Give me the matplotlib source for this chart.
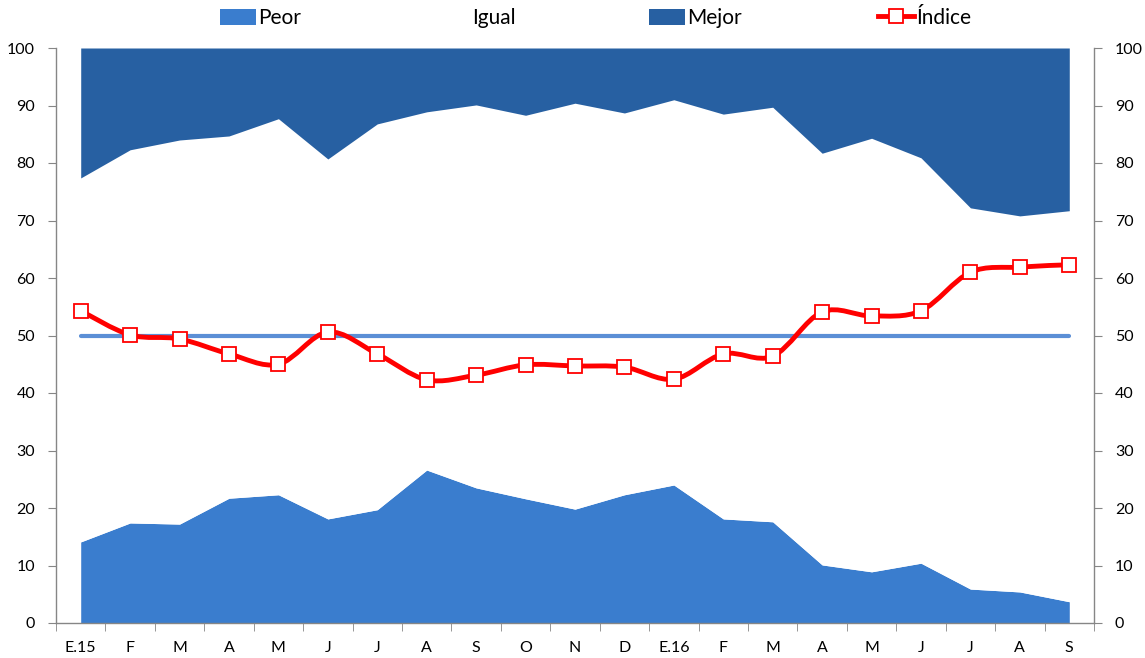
import matplotlib
matplotlib.use("Agg")
import matplotlib.pyplot as plt
from matplotlib.path import Path
from matplotlib.patches import PathPatch, Patch
from matplotlib.lines import Line2D
import numpy as np

plt.rcParams['font.family'] = ['Lato', 'DejaVu Sans']

categories = ["E.15", "F", "M", "A", "M", "J", "J", "A", "S", "O", "N", "D",
              "E.16", "F", "M", "A", "M", "J", "J", "A", "S"]
peor = [14.1, 17.4, 17.2, 21.7, 22.3, 18.1, 19.7, 26.6, 23.5, 21.6, 19.8, 22.3,
        24.0, 18.1, 17.6, 10.1, 8.9, 10.4, 5.9, 5.4, 3.7]
igual = [63.3, 64.9, 66.8, 63.0, 65.4, 62.6, 67.1, 62.3, 66.6, 66.7, 70.6, 66.4,
         67.0, 70.4, 72.1, 71.6, 75.4, 70.5, 66.3, 65.4, 68.0]
mejor = [100 - p - g for p, g in zip(peor, igual)]
indice = [54.3, 50.1, 49.4, 46.8, 45.0, 50.6, 46.8, 42.3, 43.1, 44.9, 44.7, 44.5,
          42.4, 46.8, 46.4, 54.1, 53.4, 54.3, 61.0, 61.9, 62.3]
referencia = [50] * len(categories)

c_peor = "#3A7DCE"
c_mejor = "#2760A2"
c_ref = "#5B8FD6"
c_idx = "#FF0000"
gray = "#868686"

W, H = 1145, 658
fig = plt.figure(figsize=(W / 100, H / 100), dpi=100)
ax = fig.add_axes([56 / W, 35 / H, (1094 - 56) / W, (623 - 48) / H])

x = np.arange(len(categories))
low = np.array(peor)
mid = low + np.array(igual)
top = mid + np.array(mejor)
ax.fill_between(x, 0, low, color=c_peor, lw=0, zorder=1)
ax.fill_between(x, low, mid, color="white", lw=0, zorder=1)
ax.fill_between(x, mid, top, color=c_mejor, lw=0, zorder=1)

ax.plot(x, referencia, color=c_ref, lw=3, solid_capstyle='round', zorder=2)

# smoothed line (Catmull-Rom style Bezier, like Excel smoothing)
pts = np.column_stack([x, indice]).astype(float)
n = len(pts)
verts = [pts[0]]
codes = [Path.MOVETO]
for i in range(n - 1):
    p0 = pts[i - 1] if i > 0 else pts[i]
    p1 = pts[i]
    p2 = pts[i + 1]
    p3 = pts[i + 2] if i + 2 < n else pts[i + 1]
    c1 = p1 + (p2 - p0) / 6.0
    c2 = p2 - (p3 - p1) / 6.0
    verts += [c1, c2, p2]
    codes += [Path.CURVE4] * 3
path = Path(verts, codes)
ax.add_patch(PathPatch(path, facecolor='none', edgecolor=c_idx, lw=3.5,
                       capstyle='round', joinstyle='round', zorder=3))
ax.plot(x, indice, linestyle='none', marker='s', markersize=9.5,
        markerfacecolor='white', markeredgecolor=c_idx, markeredgewidth=1.3,
        zorder=4)

ax.set_xlim(-0.5, len(categories) - 0.5)
ax.set_ylim(0, 100)
ax.set_yticks(range(0, 101, 10))
ax.set_xticks(x)
ax.set_xticklabels(categories)
ax.set_xticks(np.arange(-0.5, len(categories), 1.0), minor=True)
ax.tick_params(axis='x', which='major', length=0, pad=13, labelsize=11.5)
ax.tick_params(axis='x', which='minor', length=6, color=gray, direction='out')
ax.tick_params(axis='y', length=6, color=gray, direction='out', labelsize=11.5, pad=9)

for s in ['top', 'right']:
    ax.spines[s].set_visible(False)
for s in ['left', 'bottom']:
    ax.spines[s].set_color(gray)
    ax.spines[s].set_linewidth(1.0)

ax2 = ax.twinx()
ax2.set_ylim(0, 100)
ax2.set_yticks(range(0, 101, 10))
ax2.tick_params(axis='y', length=6, color=gray, direction='out', labelsize=11.5, pad=9)
for s in ['top', 'left', 'bottom']:
    ax2.spines[s].set_visible(False)
ax2.spines['right'].set_color(gray)
ax2.spines['right'].set_linewidth(1.0)

# legend entries
entries = [
    (Patch(facecolor=c_peor, edgecolor='none'), "Peor", 220),
    (Patch(facecolor='white', edgecolor='none'), "Igual", 434),
    (Patch(facecolor=c_mejor, edgecolor='none'), "Mejor", 649),
    (Line2D([], [], color=c_idx, lw=3.5, marker='s', markersize=9.5,
            markerfacecolor='white', markeredgecolor=c_idx, markeredgewidth=1.3), "Índice", 878),
]
for h, lab, px in entries:
    lg = fig.legend([h], [lab], loc='center left', bbox_to_anchor=(px / W, 1 - 18 / H),
                    frameon=False, fontsize=15, handlelength=1.75, handleheight=0.8,
                    handletextpad=0.1, borderpad=0, borderaxespad=0)

fig.savefig("out.png", dpi=100)
